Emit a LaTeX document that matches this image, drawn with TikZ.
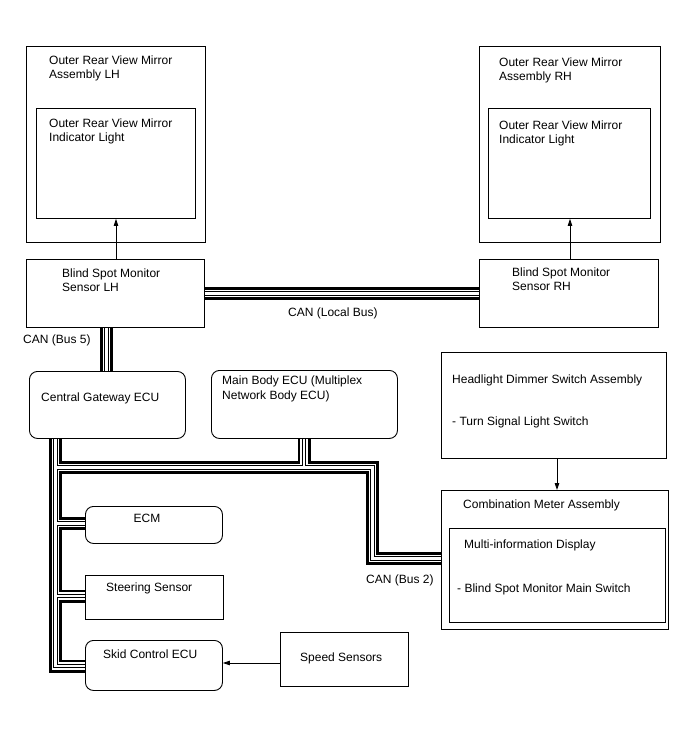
\documentclass[tikz,border=0pt]{standalone}
\usepackage{fontspec}
\setmainfont{Liberation Sans}
\usetikzlibrary{arrows.meta}
\newcommand\busall[1]{%
  \draw[#1] (bsmL.east) -- (bsmR.west);
  \draw[#1] (bsmL.south -| b5x) -- (cgw.north -| b5x);
  \draw[#1] (cgw.south -| tk) -- (tk |- ky) -- (skid.west |- ky);
  \draw[#1] (tk |- hy) -- (dnx |- hy) -- (dnx |- cy) -- (cmb.west |- cy);
  \draw[#1] (mbe.south -| mbx) -- (mbx |- hy);
  \draw[#1] (tk |- ey) -- (ecm.west |- ey);
  \draw[#1] (tk |- sy) -- (str.west |- sy);
}
\begin{document}
\begin{tikzpicture}[x=1pt,y=-1pt,
  box/.style={draw=black,line width=0.9pt,inner sep=0pt,anchor=north west},
  rbox/.style={box,rounded corners=8pt},
  txt/.style={inner sep=0pt,anchor=base west,font=\fontsize{12pt}{14pt}\selectfont},
  arr/.style={line width=0.8pt,-{Triangle[length=7pt,width=4.5pt]}},
  busline/.style={line join=miter,line cap=butt}]
\useasboundingbox[fill=white] (0,0) rectangle (688,755);
% boxes
\node[box,minimum width=179pt,minimum height=196pt] (mirL) at (26,46) {};
\node[box,minimum width=159pt,minimum height=110pt] (indL) at (36,108) {};
\node[box,minimum width=178pt,minimum height=68pt] (bsmL) at (26,259) {};
\node[box,minimum width=181pt,minimum height=196pt] (mirR) at (479,46) {};
\node[box,minimum width=162pt,minimum height=110pt] (indR) at (488,108) {};
\node[box,minimum width=179pt,minimum height=68pt] (bsmR) at (479,259) {};
\node[rbox,minimum width=156pt,minimum height=67pt] (cgw) at (29,371) {};
\node[rbox,minimum width=186pt,minimum height=68pt] (mbe) at (211,370) {};
\node[box,minimum width=225pt,minimum height=106pt] (hds) at (441,352) {};
\node[box,minimum width=227pt,minimum height=139pt] (cmb) at (441,490) {};
\node[box,minimum width=216pt,minimum height=94pt] (mid) at (449,528) {};
\node[rbox,minimum width=137pt,minimum height=37pt] (ecm) at (85,506) {};
\node[box,minimum width=138pt,minimum height=44pt] (str) at (85,575) {};
\node[rbox,minimum width=137pt,minimum height=50pt] (skid) at (85,640) {};
\node[box,minimum width=128pt,minimum height=54pt] (spd) at (280,632) {};
% texts
\node[txt] (tmirL1) at (49,64) {Outer Rear View Mirror};
\node[txt] (tmirL2) at (49,78) {Assembly LH};
\node[txt] (tindL1) at (49,127) {Outer Rear View Mirror};
\node[txt] (tindL2) at (49,141) {Indicator Light};
\node[txt] (tbsmL1) at (62,277) {Blind Spot Monitor};
\node[txt] (tbsmL2) at (62,291) {Sensor LH};
\node[txt] (tmirR1) at (499,66) {Outer Rear View Mirror};
\node[txt] (tmirR2) at (499,80) {Assembly RH};
\node[txt] (tindR1) at (499,129) {Outer Rear View Mirror};
\node[txt] (tindR2) at (499,143) {Indicator Light};
\node[txt] (tbsmR1) at (512,276) {Blind Spot Monitor};
\node[txt] (tbsmR2) at (512,290) {Sensor RH};
\node[txt] (tloc) at (288,316) {CAN (Local Bus)};
\node[txt] (tb5) at (23,343) {CAN (Bus 5)};
\node[txt] (tcgw) at (41,401) {Central Gateway ECU};
\node[txt] (tmbe1) at (222,384) {Main Body ECU (Multiplex};
\node[txt] (tmbe2) at (222,399) {Network Body ECU)};
\node[txt] (thds1) at (452,383) {Headlight Dimmer Switch Assembly};
\node[txt] (thds2) at (452,425) {- Turn Signal Light Switch};
\node[txt] (tcmb) at (463,508) {Combination Meter Assembly};
\node[txt] (tmid1) at (464,548) {Multi-information Display};
\node[txt] (tmid2) at (457,592) {- Blind Spot Monitor Main Switch};
\node[txt] (tb2) at (366,583) {CAN (Bus 2)};
\node[txt,anchor=base] (tecm) at (147,522) {ECM};
\node[txt] (tstr) at (106,591) {Steering Sensor};
\node[txt] (tskid) at (103,658) {Skid Control ECU};
\node[txt] (tspd) at (300,661) {Speed Sensors};
% arrows
\coordinate (axL) at (116,0);
\coordinate (axR) at (570,0);
\coordinate (axH) at (557,0);
\coordinate (ayS) at (0,663);
\draw[arr] (bsmL.north -| axL) -- (indL.south -| axL);
\draw[arr] (bsmR.north -| axR) -- (indR.south -| axR);
\draw[arr] (hds.south -| axH) -- (cmb.north -| axH);
\draw[arr] (spd.west |- ayS) -- (skid.east |- ayS);
% bus coordinates
\coordinate (b5x) at (106.5,0);
\coordinate (tk) at (55.5,0);
\coordinate (mbx) at (304,0);
\coordinate (dnx) at (372.5,0);
\coordinate (hy) at (0,467.5);
\coordinate (ey) at (0,523.5);
\coordinate (sy) at (0,596);
\coordinate (ky) at (0,666);
\coordinate (cy) at (0,558.5);
% buses in layers
\busall{busline,line width=13pt,black}
\busall{busline,line width=7.5pt,white}
\busall{busline,line width=4.6pt,black}
\busall{busline,line width=2.6pt,white}
\end{tikzpicture}
\end{document}
